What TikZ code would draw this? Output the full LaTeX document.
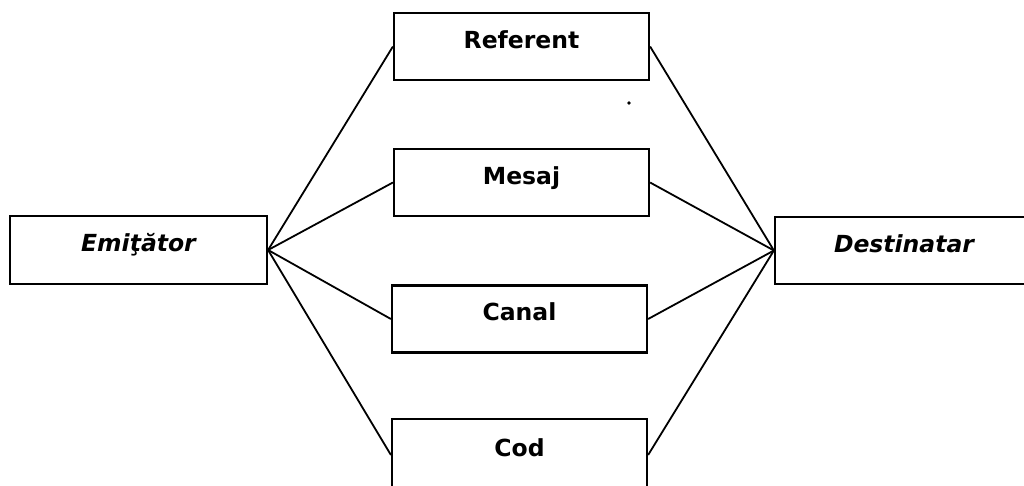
\documentclass[tikz,border=0pt]{standalone}
\usepackage{fontspec}
\setmainfont{DejaVu Sans}
\begin{document}
\begin{tikzpicture}[x=1pt,y=-1pt,
  box/.style={draw, line width=2.2pt, minimum width=255pt, minimum height=67pt,
    inner sep=0pt, text height=17pt, text depth=14pt,
    font=\bfseries\fontsize{23.5}{28}\selectfont},
  ital/.style={box, font=\bfseries\itshape\fontsize{23.5}{28}\selectfont},
  conn/.style={line width=1.8pt}]
\useasboundingbox (0,0) rectangle (1024,485);
\clip (0,0) rectangle (1024,485);
\node[ital, minimum width=257pt, minimum height=68pt] (em) at (138.5,250) {Emiţător};
\node[ital, minimum width=258pt, minimum height=67pt] (de) at (904,250.5) {Destinatar};
\node[box] (ref) at (521.5,46.5) {Referent};
\node[box] (mes) at (521.5,182.5) {Mesaj};
\node[box] (can) at (519.5,319) {Canal};
\node[box, minimum height=72pt] (cod) at (519.5,455) {Cod};
\foreach \b in {ref,mes,can,cod}{
  \draw[conn] (em.east) -- (\b.west);
  \draw[conn] (\b.east) -- (de.west);
}
\fill (629,103) circle (1.8pt);
\end{tikzpicture}
\end{document}
